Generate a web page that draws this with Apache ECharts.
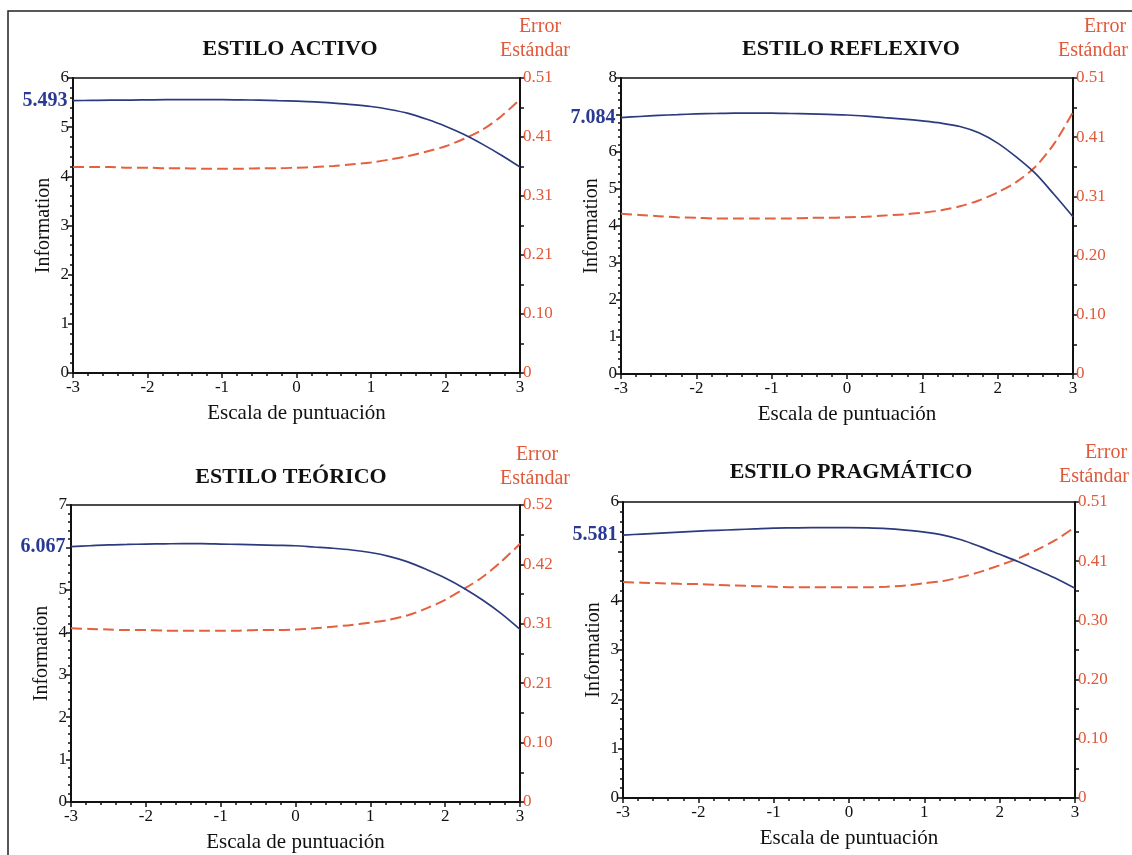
<!DOCTYPE html>
<html>
<head>
<meta charset="utf-8">
<script src="https://cdn.jsdelivr.net/npm/echarts@6/dist/echarts.min.js"></script>
<style>
html,body{margin:0;padding:0;background:#fff;}
#chart{width:1132px;height:855px;}
</style>
</head>
<body>
<div id="chart"></div>
<script>
// ---- data ----
const xVals = [-3, -2.75, -2.5, -2.25, -2, -1.75, -1.5, -1.25, -1, -0.75, -0.5, -0.25, 0, 0.25, 0.5, 0.75, 1, 1.25, 1.5, 1.75, 2, 2.25, 2.5, 2.75, 3];
const titles = ['ESTILO ACTIVO', 'ESTILO REFLEXIVO', 'ESTILO TEÓRICO', 'ESTILO PRAGMÁTICO'];
const xTitle = 'Escala de puntuación';
const yTitle = 'Information';
const seTitle1 = 'Error';
const seTitle2 = 'Estándar';
const infoMax = [6, 8, 7, 6];
const seMax = [0.51, 0.51, 0.52, 0.51];
const seTickLabels = [
  ['0', '0.10', '0.21', '0.31', '0.41', '0.51'],
  ['0', '0.10', '0.20', '0.31', '0.41', '0.51'],
  ['0', '0.10', '0.21', '0.31', '0.42', '0.52'],
  ['0', '0.10', '0.20', '0.30', '0.41', '0.51']
];
const startLabels = ['5.493', '7.084', '6.067', '5.581'];
const hiddenInfoTick = [null, 7, 6, 5];

const infoActivo     = [5.54, 5.545, 5.55, 5.55, 5.555, 5.56, 5.56, 5.56, 5.56, 5.555, 5.55, 5.54, 5.53, 5.515, 5.49, 5.46, 5.42, 5.36, 5.28, 5.16, 5.02, 4.85, 4.65, 4.43, 4.19];
const seActivo       = [0.356, 0.356, 0.356, 0.355, 0.355, 0.354, 0.354, 0.353, 0.353, 0.353, 0.354, 0.354, 0.355, 0.356, 0.358, 0.361, 0.364, 0.369, 0.375, 0.383, 0.392, 0.405, 0.421, 0.444, 0.473];
const infoReflexivo  = [6.93, 6.96, 6.99, 7.01, 7.03, 7.04, 7.05, 7.05, 7.05, 7.04, 7.03, 7.015, 7.0, 6.97, 6.93, 6.89, 6.84, 6.78, 6.69, 6.52, 6.24, 5.86, 5.42, 4.85, 4.25];
const seReflexivo    = [0.276, 0.274, 0.272, 0.270, 0.269, 0.268, 0.268, 0.268, 0.268, 0.268, 0.269, 0.269, 0.270, 0.271, 0.273, 0.275, 0.278, 0.282, 0.289, 0.299, 0.313, 0.331, 0.357, 0.397, 0.451];
const infoTeorico    = [6.02, 6.04, 6.06, 6.07, 6.08, 6.085, 6.09, 6.09, 6.08, 6.07, 6.06, 6.05, 6.04, 6.01, 5.98, 5.94, 5.88, 5.79, 5.66, 5.48, 5.28, 5.04, 4.76, 4.44, 4.07];
const seTeorico      = [0.304, 0.303, 0.302, 0.301, 0.301, 0.300, 0.300, 0.300, 0.300, 0.300, 0.301, 0.301, 0.302, 0.304, 0.307, 0.310, 0.314, 0.319, 0.327, 0.339, 0.354, 0.373, 0.394, 0.421, 0.452];
const infoPragmatico = [5.33, 5.35, 5.37, 5.39, 5.41, 5.425, 5.44, 5.455, 5.47, 5.475, 5.48, 5.48, 5.48, 5.475, 5.46, 5.43, 5.39, 5.33, 5.23, 5.09, 4.94, 4.79, 4.62, 4.45, 4.25];
const sePragmatico   = [0.372, 0.371, 0.370, 0.369, 0.3685, 0.367, 0.366, 0.365, 0.364, 0.363, 0.363, 0.363, 0.363, 0.363, 0.364, 0.366, 0.370, 0.374, 0.381, 0.390, 0.401, 0.413, 0.428, 0.445, 0.467];

const infoSeries = [infoActivo, infoReflexivo, infoTeorico, infoPragmatico];
const seSeries = [seActivo, seReflexivo, seTeorico, sePragmatico];

// ---- layout / style ----
const FONT = 'Liberation Serif';
const BLUE = '#2C3A7E';
const BLUE_TXT = '#2A3A92';
const RED = '#E4603F';
const RED_TXT = '#E0593A';
const grids = [
  {left: 73, top: 78, width: 447, height: 295},
  {left: 621, top: 78, width: 452, height: 296},
  {left: 71, top: 505, width: 449, height: 297},
  {left: 623, top: 502, width: 452, height: 296}
];
const titlePos = [[290, 49], [851, 49], [291, 477], [851, 472]];
const errPos = [[540, 27, 535, 51], [1105, 27, 1093, 51], [537, 455, 535, 479], [1106, 453, 1094, 477]];

const pairs = arr => arr.map((v, i) => [xVals[i], v]);

const option = {
  animation: false,
  backgroundColor: '#fff',
  grid: grids.map(g => Object.assign({show: true, borderColor: '#111', borderWidth: 1.5, backgroundColor: 'transparent'}, g)),
  xAxis: grids.map((g, i) => ({
    type: 'value', gridIndex: i, min: -3, max: 3, interval: 1,
    name: xTitle, nameLocation: 'middle', nameGap: 30,
    nameTextStyle: {fontFamily: FONT, fontSize: 21, color: '#111'},
    axisLine: {show: true, onZero: false, lineStyle: {color: '#111', width: 2}},
    axisTick: {show: true, inside: false, length: 5, lineStyle: {color: '#111', width: 1.5}},
    minorTick: {show: true, splitNumber: 5, length: 3, lineStyle: {color: '#111', width: 1.5}},
    splitLine: {show: false},
    axisLabel: {fontFamily: FONT, fontSize: 17, color: '#111', margin: 6}
  })),
  yAxis: [].concat(...grids.map((g, i) => [
    {
      type: 'value', gridIndex: i, position: 'left', min: 0, max: infoMax[i], interval: 1,
      name: yTitle, nameLocation: 'middle', nameGap: 19, nameRotate: 90,
      nameTextStyle: {fontFamily: FONT, fontSize: 20, color: '#111'},
      axisLine: {show: true, onZero: false, lineStyle: {color: '#111', width: 2}},
      axisTick: {show: true, length: 5, lineStyle: {color: '#111', width: 1.5}},
      minorTick: {show: true, splitNumber: 5, length: 3, lineStyle: {color: '#111', width: 1.5}},
      splitLine: {show: false},
      axisLabel: {fontFamily: FONT, fontSize: 17, color: '#111', margin: 4,
        formatter: v => (v === hiddenInfoTick[i] ? '' : String(v))}
    },
    {
      type: 'value', gridIndex: i, position: 'right', min: 0, max: seMax[i], interval: seMax[i] / 5,
      axisLine: {show: true, onZero: false, lineStyle: {color: '#111', width: 2}},
      axisTick: {show: true, length: 4, lineStyle: {color: '#111', width: 1.5}},
      minorTick: {show: true, splitNumber: 2, length: 4, lineStyle: {color: '#111', width: 1.5}},
      splitLine: {show: false},
      axisLabel: {fontFamily: FONT, fontSize: 17, color: RED_TXT, margin: 3,
        formatter: v => seTickLabels[i][Math.round(v / (seMax[i] / 5))]}
    }
  ])),
  series: [].concat(...grids.map((g, i) => [
    {
      type: 'line', xAxisIndex: i, yAxisIndex: 2 * i, data: pairs(infoSeries[i]),
      smooth: 0.3, showSymbol: false, symbol: 'none',
      lineStyle: {color: BLUE, width: 1.7},
      markPoint: {
        symbol: 'circle', symbolSize: 1, silent: true,
        itemStyle: {color: 'rgba(0,0,0,0)'},
        label: {show: true, position: 'left', distance: 5, fontFamily: FONT, fontSize: 20, fontWeight: 'bold', color: BLUE_TXT,
          formatter: startLabels[i]},
        data: [{coord: [xVals[0], infoSeries[i][0]]}]
      },
      z: 3
    },
    {
      type: 'line', xAxisIndex: i, yAxisIndex: 2 * i + 1, data: pairs(seSeries[i]),
      smooth: 0.3, showSymbol: false, symbol: 'none',
      lineStyle: {color: RED, width: 2, type: [11, 5]},
      z: 2
    }
  ])),
  graphic: [
    {type: 'rect', shape: {x: 8, y: 11, width: 1200, height: 900}, style: {fill: 'none', stroke: '#222', lineWidth: 1.5}, silent: true}
  ].concat(titles.map((t, i) => ({
    type: 'text', x: titlePos[i][0], y: titlePos[i][1],
    style: {text: t, fontFamily: FONT, fontSize: 22, fontWeight: 'bold', fill: '#111', align: 'center', verticalAlign: 'middle'}
  }))).concat(...errPos.map(p => [
    {type: 'text', x: p[0], y: p[1], style: {text: seTitle1, fontFamily: FONT, fontSize: 20, fill: RED_TXT, align: 'center', verticalAlign: 'middle'}},
    {type: 'text', x: p[2], y: p[3], style: {text: seTitle2, fontFamily: FONT, fontSize: 20, fill: RED_TXT, align: 'center', verticalAlign: 'middle'}}
  ]))
};

const chart = echarts.init(document.getElementById('chart'), null, {renderer: 'canvas'});
chart.setOption(option);
</script>
</body>
</html>
